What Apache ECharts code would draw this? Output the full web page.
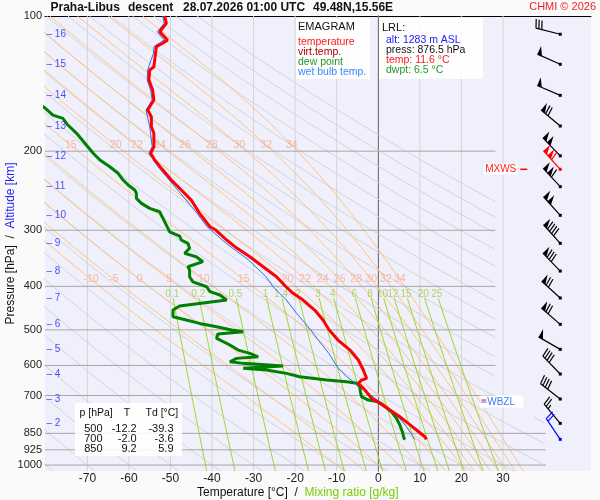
<!DOCTYPE html>
<html>
<head>
<meta charset="utf-8">
<script src="https://cdn.jsdelivr.net/npm/echarts@6/dist/echarts.min.js"></script>
<style>
html,body{margin:0;padding:0;background:#fafafa;}
#pic{width:600px;height:500px;}
</style>
</head>
<body>
<div id="pic"></div>
<script>
var FONT = '"Liberation Sans", Arial, sans-serif';

// axes
var T_MIN = -80.2, T_MAX = 51.2, P_TOP = 100, P_BOT = 1031;
var xTicks = [-70, -60, -50, -40, -30, -20, -10, 0, 10, 20, 30];
var pTicks = [100, 200, 300, 400, 500, 600, 700, 850, 925, 1000];

// altitude marks [km] and their pressure
var altKm = [16, 15, 14, 13, 12, 11, 10, 9, 8, 7, 6, 5, 4, 3, 2];
var altP = [109.8, 128.1, 150.2, 175.8, 204.8, 239.9, 277.9, 320.8, 369.8, 424.6, 486.0, 552.6, 627.1, 712.9, 807.5];

// temperature profile
var tempP = [100, 103.8, 108.4, 113.1, 115.0, 117.0, 121.1, 129.7, 131.9, 138.8, 146.2, 153.8, 162.0, 167.6, 176.4,
  182.5, 195.5, 202.2, 209.3, 218.4, 231.9, 244.1, 257.0, 275.1, 294.6, 299.7, 315.4, 326.4, 343.6, 361.7,
  380.8, 400.8, 414.6, 429.1, 451.7, 475.5, 500.5, 526.9, 554.6, 583.6, 614.3, 641.0, 646.7, 657.7, 680.8,
  710.3, 728.8, 754.3, 780.6, 807.5, 835.6, 865.0, 876.5];
var tempT = [-51.4, -51.0, -52.6, -50.7, -51.9, -53.4, -53.6, -54.0, -55.0, -55.2, -54.3, -54.0, -55.5, -54.6, -54.6,
  -54.0, -54.0, -54.8, -53.8, -52.2, -49.8, -47.4, -45.0, -43.0, -40.5, -39.1, -36.5, -34.5, -30.9, -27.7,
  -24.5, -22.2, -20.5, -18.1, -15.3, -13.3, -11.8, -9.7, -6.8, -4.8, -3.6, -2.8, -4.0, -4.8, -3.2,
  -1.6, 0.4, 2.8, 5.2, 7.2, 9.2, 11.2, 11.6];

// dew point profile
var dewP = [157.0, 160.6, 166.2, 169.0, 174.9, 182.5, 192.1, 202.2, 209.3, 216.6, 224.0, 231.9, 237.9, 244.1, 248.3,
  254.7, 261.4, 268.2, 272.9, 282.3, 292.2, 302.4, 309.0, 315.4, 320.8, 329.1, 337.7, 343.6, 352.5, 361.7,
  367.9, 380.8, 390.8, 400.8, 411.1, 418.2, 429.1, 432.9, 442.5, 451.7, 467.5, 475.5, 483.7, 492.0, 500.5,
  504.7, 510.8, 522.2, 540.4, 554.6, 564.0, 574.0, 578.7, 588.8, 593.7, 602.0, 609.1, 614.3, 624.9, 635.8,
  646.7, 652.4, 657.7, 669.3, 686.7, 704.6, 716.6, 722.8, 735.2, 760.9, 787.0, 814.5, 843.0, 871.9, 876.5];
var dewT = [-81.5, -80.1, -78.3, -75.9, -74.7, -72.6, -70.6, -68.6, -67.0, -64.6, -62.6, -61.4, -60.2, -58.6, -58.2,
  -58.2, -57.0, -55.0, -52.6, -51.8, -51.0, -50.2, -47.8, -47.4, -45.8, -45.4, -46.6, -43.8, -42.2, -45.8,
  -45.4, -45.4, -44.6, -41.3, -40.5, -38.1, -36.5, -39.8, -47.8, -49.4, -49.4, -46.2, -43.0, -38.9, -35.3,
  -32.5, -38.6, -38.9, -35.7, -33.7, -30.9, -28.9, -34.1, -35.7, -32.5, -22.9, -32.5, -26.9, -22.1, -18.9,
  -12.4, -7.6, -5.2, -4.4, -4.3, -4.0, -2.4, 0.0, 1.2, 3.2, 4.4, 5.2, 5.8, 6.2, 6.5];

// wet bulb temperature profile
var wbP = [100, 103.8, 108.4, 113.1, 117.0, 121.1, 131.9, 138.8, 146.2, 153.8, 162.0, 176.4, 195.5, 202.2, 218.4,
  231.9, 248.3, 275.1, 294.6, 320.8, 349.5, 380.8, 400.8, 429.1, 458.8, 492.0, 526.9, 564.0, 604.0, 635.8,
  657.7, 680.8, 710.3, 741.7, 780.6, 821.6, 865.0, 876.5];
var wbT = [-51.9, -51.5, -53.2, -51.5, -54.0, -54.1, -55.5, -55.6, -54.8, -54.4, -55.9, -55.0, -54.4, -55.2, -52.7,
  -50.3, -47.6, -43.6, -41.2, -36.6, -31.2, -27.0, -25.3, -22.1, -19.7, -16.9, -14.4, -11.9, -9.9, -7.6,
  -5.4, -3.4, -0.8, 2.0, 4.8, 6.8, 8.4, 8.8];

// wind barbs: pressure, direction [deg], speed [kt], kind (n normal, m max wind, l lrl)
var windP = [109.8, 128.1, 150.2, 175.8, 204.8, 219.5, 239.9, 277.9, 320.8, 369.8, 424.6, 486.0, 552.6, 627.1, 712.9, 807.5, 876.5];
var windDir = [284, 294, 293, 310, 316, 318, 317, 318, 318, 316, 312, 311, 300, 316, 308, 320, 326];
var windSpd = [30, 50, 50, 70, 100, 110, 110, 100, 90, 80, 70, 70, 50, 40, 40, 25, 20];
var windKind = ['n', 'n', 'n', 'n', 'n', 'm', 'n', 'n', 'n', 'n', 'n', 'n', 'n', 'n', 'n', 'n', 'l'];
var BARB_T = 43.8;

// special levels
var mxwsP = 219.5, wbzlP = 722;

// background line families
var dryTheta = [-80, -70, -60, -50, -40, -30, -20, -10, 0, 10, 20, 30, 40, 50, 60, 70, 80, 90, 100, 110, 120, 130, 140, 150, 160, 170];
var moistThw = [-10, -5, 0, 5, 10, 15, 20, 22, 24, 26, 28, 30, 32, 34];
var mixW = [0.1, 0.2, 0.5, 1, 1.4, 2, 3, 4, 6, 8, 10, 12, 15, 20, 25];
var mixText = ['0.1', '0.2', '0.5', '1', '1.4', '2', '3', '4', '6', '8', '10', '12', '15', '20', '25'];
var moistLabelP = [194, 386], mixLabelP = 416, mixTopP = 425;

// table
var tabP = ['500', '700', '850'];
var tabT = ['-12.2', '-2.0', '9.2'];
var tabTd = ['-39.3', '-3.6', '5.9'];

var chart = echarts.init(document.getElementById('pic'));

function pair(ps, ts) {
  return ps.map(function (p, i) { return [ts[i], p]; });
}
function bgLine(data, color, width, z) {
  return {
    type: 'line', data: data, symbol: 'none', silent: true, animation: false,
    lineStyle: { color: color, width: width }, z: z || 1
  };
}
function logSteps(p0, p1, n) {
  var out = [];
  for (var i = 0; i <= n; i++) out.push(Math.exp(Math.log(p0) + (Math.log(p1) - Math.log(p0)) * i / n));
  return out;
}

var series = [];

// vertical isotherms
xTicks.forEach(function (t) {
  series.push(bgLine([[t, P_TOP], [t, P_BOT]], t === 0 ? '#9c9c9c' : '#d4d4d4', 1, 1));
});

// dry adiabats
function dryLimit(p) { return p < 780 ? 28.2 : 40.3; }
var dryPs = logSteps(P_TOP, P_BOT, 500);
dryTheta.forEach(function (th) {
  var seg = [];
  dryPs.forEach(function (p) {
    var t = (th + 273.15) * Math.pow(p / 1000, 0.2857) - 273.15;
    if (t <= dryLimit(p)) {
      seg.push([t, p]);
    } else {
      if (seg.length > 1) series.push(bgLine(seg, '#d2d2d7', 1, 1));
      seg = [];
    }
  });
  if (seg.length > 1) series.push(bgLine(seg, '#d2d2d7', 1, 1));
});

// saturated (pseudo) adiabats
function dTdp(T, p) {
  var es = 6.112 * Math.exp(17.67 * (T - 273.15) / (T - 29.65));
  var rs = 0.622 * es / (p - es);
  var L = 2.501e6;
  return (287.04 * T + L * rs) / (p * (1005.7 + L * L * rs * 0.622 / (287.04 * T * T)));
}
function moistCurve(thw) {
  var up = [], down = [];
  var T = thw + 273.15, p = 1000, h = -2, k1, k2;
  up.push([thw, 1000]);
  while (p > P_TOP) {
    k1 = dTdp(T, p); k2 = dTdp(T + k1 * h, p + h);
    T += (k1 + k2) / 2 * h; p += h;
    up.push([T - 273.15, p]);
  }
  T = thw + 273.15; p = 1000; h = 2;
  while (p < P_BOT) {
    k1 = dTdp(T, p); k2 = dTdp(T + k1 * h, p + h);
    T += (k1 + k2) / 2 * h; p += h;
    down.push([T - 273.15, p]);
  }
  return down.reverse().concat(up);
}
function tAt(curve, p) {
  for (var i = 1; i < curve.length; i++) {
    var a = curve[i - 1], b = curve[i];
    if ((a[1] - p) * (b[1] - p) <= 0) {
      var f = (Math.log(p) - Math.log(a[1])) / (Math.log(b[1]) - Math.log(a[1]));
      return a[0] + (b[0] - a[0]) * f;
    }
  }
  return NaN;
}
var moistLabels = [];
moistThw.forEach(function (thw) {
  var c = moistCurve(thw);
  series.push(bgLine(c, '#ffc27e', 1, 1));
  moistLabelP.forEach(function (lp) {
    var t = tAt(c, lp);
    if (t > T_MIN + 2) moistLabels.push({ value: [t, lp], label: { formatter: String(thw) } });
  });
});

// mixing ratio lines
function mixT(w, p) {
  var e = w * p / (622 + w);
  var l = Math.log(e / 6.112);
  return 243.5 * l / (17.67 - l);
}
var mixLabels = [];
mixW.forEach(function (w, i) {
  var pts = logSteps(mixTopP, P_BOT, 30).map(function (p) { return [mixT(w, p), p]; });
  series.push(bgLine(pts, '#9fd62a', 1, 2));
  mixLabels.push({ value: [mixT(w, mixLabelP), mixLabelP], label: { formatter: mixText[i] } });
});

// isobars
pTicks.forEach(function (p) {
  if (p === P_TOP) return;
  series.push(bgLine([[T_MIN, p], [p >= 850 ? 40.3 : 28.2, p]], '#a6a6a6', 1, 2));
});

// labels of background lines
series.push({
  type: 'scatter', data: moistLabels, symbolSize: 1, itemStyle: { color: 'rgba(0,0,0,0)' },
  silent: true, animation: false, z: 3,
  label: { show: true, position: 'inside', color: '#f6a98c', fontSize: 10.5, fontFamily: FONT }
});
series.push({
  type: 'scatter', data: mixLabels, symbolSize: 1, itemStyle: { color: 'rgba(0,0,0,0)' },
  silent: true, animation: false, z: 3,
  label: { show: true, position: 'inside', color: '#9ccf34', fontSize: 10, fontFamily: FONT }
});

// altitude marks
series.push({
  type: 'scatter', symbolSize: 1, itemStyle: { color: 'rgba(0,0,0,0)' }, silent: true, animation: false, z: 9,
  data: altP.map(function (p, i) { return { value: [T_MIN, p], label: { formatter: '\u2013 ' + altKm[i] } }; }),
  label: { show: true, position: 'right', distance: 1, color: '#2323f0', fontSize: 10, fontFamily: FONT }
});

// profiles
series.push({ type: 'line', data: pair(dewP, dewT), symbol: 'none', animation: false, z: 5,
  lineStyle: { color: '#008000', width: 3 } });
series.push({ type: 'line', data: pair(wbP, wbT), symbol: 'none', animation: false, z: 6,
  lineStyle: { color: '#2a6cf5', width: 1 } });
series.push({ type: 'line', data: pair(tempP, tempT), symbol: 'none', animation: false, z: 7,
  lineStyle: { color: '#ff0000', width: 3 } });

// wind barbs
var barbColor = { n: '#000000', m: '#ff0000', l: '#0000ff' };
function renderBarb(params, api) {
  var i = api.value(4);
  var c = api.coord([api.value(0), api.value(1)]);
  var a = api.value(2) * Math.PI / 180;
  var ux = Math.sin(a), uy = -Math.cos(a);
  var fx = -uy, fy = ux;
  var col = barbColor[windKind[i]];
  var L = 25, F = 9;
  var ex = c[0] + ux * L, ey = c[1] + uy * L;
  var kids = [
    { type: 'line', shape: { x1: c[0], y1: c[1], x2: ex, y2: ey }, style: { stroke: col, lineWidth: 1.2 } },
    { type: 'rect', shape: { x: c[0] - 1.5, y: c[1] - 1.5, width: 3, height: 3 }, style: { fill: col } }
  ];
  var s = api.value(3), d = 0, bx, by;
  while (s >= 50) {
    bx = ex - ux * d; by = ey - uy * d;
    kids.push({ type: 'polygon', shape: { points: [[bx, by], [bx - ux * 5, by - uy * 5], [bx + fx * F, by + fy * F]] },
      style: { fill: col } });
    d += 6; s -= 50;
  }
  while (s >= 10) {
    bx = ex - ux * d; by = ey - uy * d;
    kids.push({ type: 'line', shape: { x1: bx, y1: by, x2: bx + fx * F + ux * 2, y2: by + fy * F + uy * 2 },
      style: { stroke: col, lineWidth: 1.2 } });
    d += 3; s -= 10;
  }
  if (s >= 5) {
    bx = ex - ux * d; by = ey - uy * d;
    kids.push({ type: 'line', shape: { x1: bx, y1: by, x2: bx + fx * F / 2 + ux, y2: by + fy * F / 2 + uy },
      style: { stroke: col, lineWidth: 1.2 } });
  }
  return { type: 'group', children: kids };
}
series.push({
  type: 'custom', renderItem: renderBarb, silent: true, animation: false, z: 10, clip: false,
  data: windP.map(function (p, i) { return [BARB_T, p, windDir[i], windSpd[i], i]; })
});

// special level markers (MXWS, WBZL)
function renderLevel(params, api) {
  var c = api.coord([BARB_T, api.value(1)]);
  var kind = api.value(2);
  if (kind === 0) {
    return { type: 'group', children: [
      { type: 'text', style: { text: 'MXWS', x: c[0] - 43, y: c[1], align: 'right', verticalAlign: 'middle',
        font: '10px ' + FONT, fill: '#ff2020', backgroundColor: '#ffffff', padding: [1, 1, 0, 1] } },
      { type: 'line', shape: { x1: c[0] - 40, y1: c[1], x2: c[0] - 33, y2: c[1] }, style: { stroke: '#ff0000', lineWidth: 1.5 } }
    ] };
  }
  return { type: 'group', children: [
    { type: 'rect', shape: { x: c[0] - 80, y: c[1] - 6, width: 43, height: 12 }, style: { fill: '#ffffff' } },
    { type: 'line', shape: { x1: c[0] - 79, y1: c[1] - 1.5, x2: c[0] - 74, y2: c[1] - 1.5 }, style: { stroke: '#ff0000', lineWidth: 1 } },
    { type: 'line', shape: { x1: c[0] - 79, y1: c[1] + 0.5, x2: c[0] - 74, y2: c[1] + 0.5 }, style: { stroke: '#2a6cf5', lineWidth: 1 } },
    { type: 'text', style: { text: 'WBZL', x: c[0] - 73, y: c[1] + 1, align: 'left', verticalAlign: 'middle',
      font: '10px ' + FONT, fill: '#3a7bff' } }
  ] };
}
series.push({
  type: 'custom', renderItem: renderLevel, silent: true, animation: false, z: 11, clip: false,
  data: [[BARB_T, mxwsP, 0], [BARB_T, wbzlP, 1]]
});

function txt(x, y, s, size, color, extra) {
  return { type: 'text', x: x, y: y, z: 20,
    style: { text: s, font: (extra && extra.bold ? 'bold ' : '') + size + 'px ' + FONT, fill: color,
      align: (extra && extra.align) || 'left', verticalAlign: 'middle' } };
}

var graphic = [
  // titles
  txt(50.5, 8, 'Praha-Libus', 12, '#111', { bold: true }),
  txt(128, 8, 'descent', 12, '#111', { bold: true }),
  txt(183, 8, '28.07.2026 01:00 UTC', 12, '#111', { bold: true }),
  txt(313, 8, '49.48N,15.56E', 12, '#111', { bold: true }),
  txt(596, 7, 'CHMI \u00a9 2026', 11, '#ee2222', { align: 'right' }),
  // legend box
  { type: 'rect', z: 19, shape: { x: 296, y: 18, width: 74, height: 61 }, style: { fill: 'rgba(255,255,255,0.88)' } },
  txt(298, 26.5, 'EMAGRAM', 11, '#111'),
  txt(298, 42.5, 'temperature', 10.5, '#ff1a1a'),
  txt(298, 52.5, 'virt.temp.', 10.5, '#a80000'),
  txt(298, 62, 'dew point', 10.5, '#229922'),
  txt(298, 72, 'wet bulb temp.', 10.5, '#3d86ff'),
  // LRL box
  { type: 'rect', z: 19, shape: { x: 379, y: 18, width: 104, height: 61 }, style: { fill: 'rgba(255,255,255,0.88)' } },
  txt(382, 27.5, 'LRL:', 11, '#111'),
  txt(386, 40, 'alt: 1283 m ASL', 10.5, '#2020ff'),
  txt(386, 50, 'press: 876.5 hPa', 10.5, '#111'),
  txt(386, 60, 'temp: 11.6 \u00b0C', 10.5, '#ff1a1a'),
  txt(386, 70, 'dwpt: 6.5 \u00b0C', 10.5, '#229922'),
  // table box
  { type: 'rect', z: 19, shape: { x: 75, y: 403, width: 107, height: 53 }, style: { fill: 'rgba(255,255,255,0.88)' } },
  txt(79.5, 413.5, 'p [hPa]', 10.5, '#111'),
  txt(127, 413.5, 'T', 10.5, '#111', { align: 'center' }),
  txt(145.5, 413.5, 'Td [\u00b0C]', 10.5, '#111'),
  // axis title
  { type: 'text', x: 197, y: 493, z: 20, style: {
    text: '{a|Temperature [\u00b0C]  /  }{b|Mixing ratio [g/kg]}', verticalAlign: 'middle',
    rich: { a: { fill: '#111', font: '12px ' + FONT }, b: { fill: '#7ccc00', font: '12px ' + FONT } } } }
];
tabP.forEach(function (p, i) {
  var y = 428.5 + i * 10;
  graphic.push(txt(102.5, y, p, 11, '#111', { align: 'right' }));
  graphic.push(txt(136.7, y, tabT[i], 11, '#111', { align: 'right' }));
  graphic.push(txt(173.5, y, tabTd[i], 11, '#111', { align: 'right' }));
});

var option = {
  backgroundColor: '#fafafa',
  animation: false,
  grid: { left: 45, right: 9, top: 16, bottom: 29, show: true, backgroundColor: '#f0f0fd', borderWidth: 0,
    containLabel: false, outerBoundsMode: 'none' },
  xAxis: [{
    type: 'value', min: T_MIN, max: T_MAX,
    axisLine: { show: false }, axisTick: { show: false }, splitLine: { show: false },
    axisLabel: { customValues: xTicks, color: '#222', fontSize: 12, fontFamily: FONT, margin: 2 }
  }, {
    type: 'value', position: 'top', min: T_MIN, max: T_MAX,
    axisLine: { show: true, lineStyle: { color: '#000', width: 1 } },
    axisTick: { show: false }, axisLabel: { show: false }, splitLine: { show: false }
  }],
  yAxis: {
    type: 'log', logBase: 10, min: P_TOP, max: P_BOT, inverse: true,
    axisLine: { show: true, lineStyle: { color: '#000', width: 1 } },
    axisTick: { show: false }, splitLine: { show: false },
    axisLabel: { customValues: pTicks, color: '#222', fontSize: 11, fontFamily: FONT, margin: 3,
      formatter: function (v) { return String(Math.round(v)); } },
    name: '{a|Pressure [hPa]  /  }{b|Altitude [km]}',
    nameLocation: 'middle', nameRotate: 90, nameGap: 28, nameMoveOverlap: false,
    nameTextStyle: { rich: { a: { color: '#111', fontSize: 12, fontFamily: FONT }, b: { color: '#2323f0', fontSize: 12, fontFamily: FONT } } }
  },
  graphic: graphic,
  series: series
};
chart.setOption(option);
</script>
</body>
</html>
